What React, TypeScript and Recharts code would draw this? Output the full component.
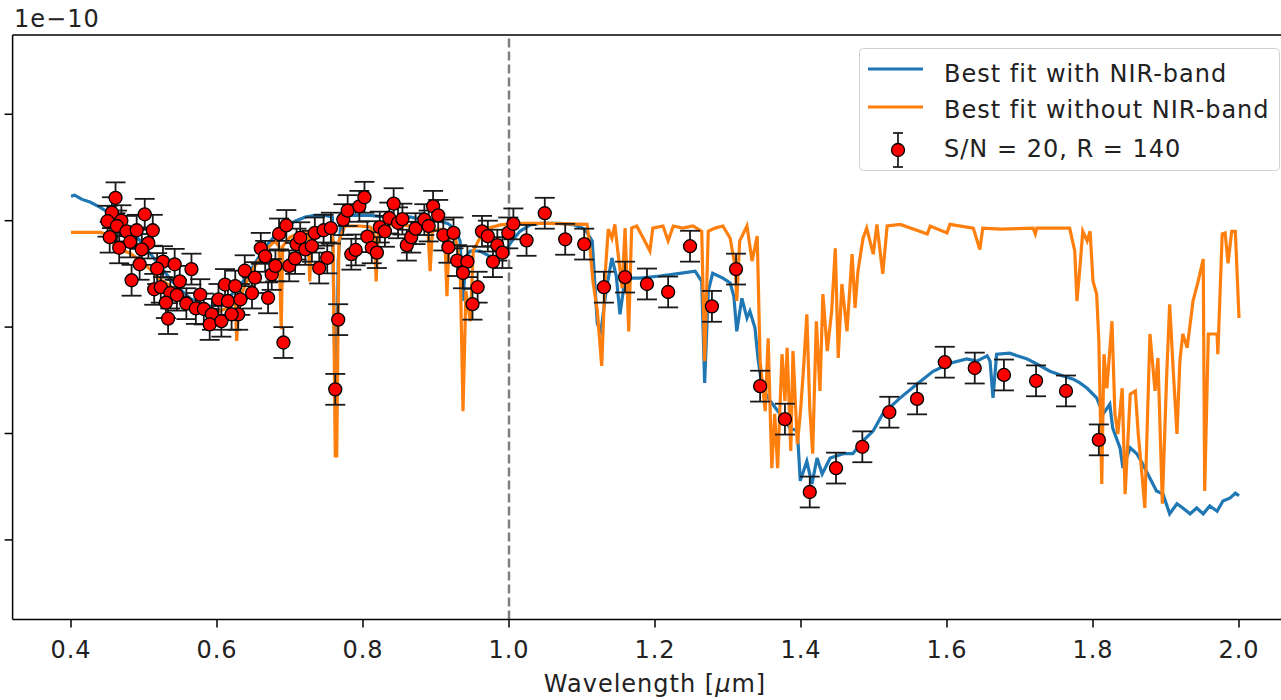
import React from 'react';
import { ComposedChart, Line, Scatter, ErrorBar, XAxis, YAxis, ReferenceLine, Legend, Label } from 'recharts';

const FONT = '"DejaVu Sans", Verdana, sans-serif';
const BLUE = '#1f77b4';
const ORANGE = '#ff7f0e';

// axis ticks
const wavelengthTicks = [0.4, 0.6, 0.8, 1.0, 1.2, 1.4, 1.6, 1.8, 2.0];
const fluxTicks = [0.2, 0.4, 0.6, 0.8, 1.0];

// best fit with NIR-band [wavelength um, flux 1e-10]
const fitWithNir: [number, number][] = [
  [0.400, 0.846], [0.405, 0.848], [0.415, 0.840], [0.426, 0.835], [0.440, 0.825], [0.453, 0.814],
  [0.467, 0.799], [0.481, 0.780], [0.495, 0.762], [0.508, 0.739], [0.522, 0.715], [0.536, 0.690],
  [0.549, 0.671], [0.563, 0.654], [0.577, 0.645], [0.590, 0.639], [0.601, 0.641], [0.611, 0.649],
  [0.625, 0.668], [0.638, 0.690], [0.652, 0.720], [0.666, 0.750], [0.679, 0.771], [0.693, 0.788],
  [0.707, 0.799], [0.721, 0.807], [0.734, 0.810], [0.748, 0.810], [0.758, 0.807], [0.760, 0.649],
  [0.763, 0.358], [0.766, 0.724], [0.770, 0.803], [0.782, 0.810], [0.796, 0.810], [0.810, 0.810],
  [0.823, 0.808], [0.837, 0.807], [0.851, 0.805], [0.864, 0.807], [0.878, 0.803], [0.892, 0.803],
  [0.905, 0.799], [0.916, 0.795], [0.926, 0.784], [0.933, 0.762], [0.937, 0.649], [0.941, 0.733],
  [0.947, 0.743], [0.960, 0.743], [0.974, 0.733], [0.988, 0.733], [0.995, 0.743], [1.004, 0.762],
  [1.015, 0.780], [1.029, 0.792], [1.042, 0.795], [1.070, 0.795], [1.090, 0.792], [1.104, 0.784],
  [1.114, 0.762], [1.121, 0.606], [1.126, 0.592], [1.133, 0.668], [1.141, 0.730], [1.147, 0.696],
  [1.152, 0.624], [1.159, 0.692], [1.179, 0.692], [1.207, 0.696], [1.234, 0.701], [1.255, 0.705],
  [1.264, 0.686], [1.268, 0.495], [1.273, 0.668], [1.279, 0.701], [1.293, 0.692], [1.303, 0.683],
  [1.308, 0.658], [1.312, 0.592], [1.319, 0.654], [1.326, 0.617], [1.330, 0.630], [1.337, 0.598],
  [1.341, 0.542], [1.347, 0.485], [1.358, 0.461], [1.371, 0.437], [1.385, 0.410], [1.395, 0.405],
  [1.399, 0.311], [1.408, 0.348], [1.415, 0.305], [1.422, 0.354], [1.429, 0.324], [1.440, 0.354],
  [1.458, 0.362], [1.471, 0.362], [1.485, 0.386], [1.499, 0.405], [1.512, 0.437], [1.536, 0.467],
  [1.559, 0.493], [1.581, 0.517], [1.604, 0.532], [1.627, 0.540], [1.641, 0.536], [1.655, 0.546],
  [1.659, 0.536], [1.663, 0.467], [1.668, 0.549], [1.686, 0.551], [1.696, 0.546], [1.710, 0.540],
  [1.723, 0.531], [1.741, 0.517], [1.759, 0.508], [1.773, 0.502], [1.782, 0.495], [1.792, 0.485],
  [1.805, 0.467], [1.814, 0.437], [1.823, 0.455], [1.827, 0.410], [1.837, 0.373], [1.841, 0.335],
  [1.851, 0.373], [1.860, 0.362], [1.868, 0.343], [1.878, 0.316], [1.887, 0.292], [1.896, 0.286],
  [1.905, 0.249], [1.915, 0.268], [1.923, 0.260], [1.933, 0.249], [1.942, 0.260], [1.951, 0.249],
  [1.960, 0.264], [1.970, 0.254], [1.978, 0.273], [1.988, 0.279], [1.995, 0.288], [2.000, 0.283],
];

// best fit without NIR-band
const fitWithoutNir: [number, number][] = [
  [0.400, 0.778], [0.440, 0.778], [0.447, 0.775], [0.453, 0.762], [0.467, 0.746], [0.481, 0.739],
  [0.495, 0.724], [0.508, 0.709], [0.522, 0.690], [0.536, 0.677], [0.549, 0.662], [0.563, 0.649],
  [0.577, 0.639], [0.590, 0.630], [0.604, 0.630], [0.618, 0.639], [0.625, 0.649], [0.627, 0.574],
  [0.630, 0.649], [0.638, 0.677], [0.652, 0.715], [0.666, 0.743], [0.679, 0.762], [0.685, 0.752],
  [0.688, 0.596], [0.690, 0.752], [0.700, 0.769], [0.714, 0.777], [0.725, 0.777], [0.727, 0.686],
  [0.730, 0.777], [0.741, 0.784], [0.755, 0.788], [0.759, 0.762], [0.762, 0.358], [0.764, 0.358],
  [0.767, 0.762], [0.775, 0.790], [0.796, 0.790], [0.810, 0.788], [0.816, 0.771], [0.818, 0.686],
  [0.821, 0.780], [0.837, 0.792], [0.851, 0.792], [0.878, 0.788], [0.889, 0.780], [0.892, 0.705],
  [0.895, 0.780], [0.905, 0.784], [0.912, 0.771], [0.915, 0.658], [0.918, 0.771], [0.926, 0.771],
  [0.933, 0.724], [0.937, 0.442], [0.941, 0.668], [0.947, 0.611], [0.951, 0.743], [0.958, 0.762],
  [0.967, 0.784], [0.988, 0.792], [1.015, 0.795], [1.056, 0.795], [1.107, 0.793], [1.111, 0.748],
  [1.115, 0.686], [1.121, 0.630], [1.127, 0.527], [1.132, 0.705], [1.136, 0.784], [1.141, 0.767],
  [1.145, 0.793], [1.149, 0.743], [1.155, 0.673], [1.159, 0.786], [1.164, 0.592], [1.168, 0.786],
  [1.175, 0.790], [1.184, 0.767], [1.193, 0.743], [1.197, 0.786], [1.211, 0.790], [1.218, 0.762],
  [1.225, 0.790], [1.238, 0.786], [1.252, 0.790], [1.264, 0.780], [1.268, 0.536], [1.273, 0.780],
  [1.282, 0.786], [1.293, 0.790], [1.303, 0.767], [1.310, 0.711], [1.312, 0.649], [1.316, 0.762],
  [1.326, 0.790], [1.333, 0.724], [1.340, 0.771], [1.344, 0.536], [1.351, 0.442], [1.355, 0.579],
  [1.360, 0.335], [1.364, 0.437], [1.368, 0.335], [1.374, 0.549], [1.378, 0.461], [1.381, 0.561],
  [1.386, 0.367], [1.389, 0.555], [1.395, 0.380], [1.399, 0.437], [1.403, 0.512], [1.408, 0.624],
  [1.412, 0.448], [1.416, 0.362], [1.421, 0.611], [1.426, 0.480], [1.430, 0.662], [1.436, 0.555],
  [1.442, 0.630], [1.447, 0.748], [1.451, 0.542], [1.456, 0.681], [1.463, 0.592], [1.470, 0.737],
  [1.474, 0.636], [1.478, 0.705], [1.485, 0.767], [1.490, 0.786], [1.499, 0.737], [1.504, 0.793],
  [1.512, 0.700], [1.518, 0.790], [1.536, 0.793], [1.573, 0.775], [1.577, 0.790], [1.600, 0.777],
  [1.604, 0.793], [1.636, 0.786], [1.645, 0.746], [1.649, 0.786], [1.673, 0.784], [1.718, 0.786],
  [1.721, 0.775], [1.723, 0.786], [1.768, 0.786], [1.775, 0.743], [1.778, 0.649], [1.782, 0.711],
  [1.786, 0.780], [1.792, 0.762], [1.796, 0.780], [1.800, 0.686], [1.805, 0.662], [1.808, 0.574],
  [1.812, 0.305], [1.815, 0.549], [1.819, 0.485], [1.826, 0.611], [1.830, 0.437], [1.834, 0.399],
  [1.840, 0.485], [1.844, 0.286], [1.851, 0.474], [1.858, 0.480], [1.862, 0.399], [1.867, 0.324],
  [1.871, 0.260], [1.878, 0.587], [1.885, 0.480], [1.889, 0.542], [1.895, 0.268], [1.901, 0.512],
  [1.905, 0.643], [1.910, 0.517], [1.915, 0.399], [1.919, 0.536], [1.923, 0.587], [1.929, 0.561],
  [1.937, 0.649], [1.944, 0.686], [1.951, 0.728], [1.953, 0.292], [1.958, 0.587], [1.970, 0.587],
  [1.971, 0.549], [1.977, 0.775], [1.981, 0.777], [1.985, 0.720], [1.990, 0.780], [1.995, 0.780],
  [2.000, 0.617],
];

// simulated observation, S/N = 20, R = 140
const observed: [number, number][] = [
  [0.461, 0.843], [0.456, 0.815], [0.450, 0.799], [0.469, 0.800], [0.463, 0.790], [0.476, 0.780],
  [0.453, 0.769], [0.481, 0.760], [0.466, 0.749], [0.490, 0.782], [0.501, 0.812], [0.512, 0.782],
  [0.506, 0.758], [0.497, 0.746], [0.494, 0.718], [0.483, 0.688], [0.526, 0.723], [0.518, 0.710],
  [0.542, 0.718], [0.565, 0.709], [0.549, 0.686], [0.514, 0.671], [0.523, 0.675], [0.536, 0.664],
  [0.530, 0.646], [0.545, 0.660], [0.558, 0.644], [0.533, 0.616], [0.577, 0.661], [0.571, 0.635],
  [0.582, 0.634], [0.593, 0.624], [0.590, 0.605], [0.606, 0.611], [0.602, 0.652], [0.611, 0.680],
  [0.625, 0.677], [0.615, 0.649], [0.629, 0.624], [0.620, 0.624], [0.632, 0.652], [0.638, 0.706],
  [0.648, 0.664], [0.652, 0.693], [0.660, 0.748], [0.666, 0.733], [0.670, 0.655], [0.675, 0.699],
  [0.680, 0.715], [0.685, 0.775], [0.695, 0.791], [0.691, 0.571], [0.699, 0.715], [0.707, 0.729],
  [0.709, 0.756], [0.714, 0.768], [0.721, 0.746], [0.730, 0.752], [0.734, 0.777], [0.746, 0.782],
  [0.756, 0.786], [0.740, 0.711], [0.751, 0.730], [0.766, 0.614], [0.762, 0.483], [0.773, 0.802],
  [0.779, 0.819], [0.795, 0.827], [0.802, 0.844], [0.784, 0.737], [0.790, 0.745], [0.806, 0.770],
  [0.812, 0.749], [0.819, 0.740], [0.823, 0.788], [0.830, 0.780], [0.836, 0.805], [0.842, 0.832],
  [0.848, 0.796], [0.854, 0.803], [0.860, 0.754], [0.866, 0.769], [0.872, 0.785], [0.884, 0.802],
  [0.890, 0.790], [0.896, 0.827], [0.903, 0.810], [0.910, 0.773], [0.917, 0.750], [0.924, 0.777],
  [0.929, 0.725], [0.943, 0.723], [0.937, 0.702], [0.957, 0.675], [0.950, 0.643], [0.963, 0.780],
  [0.971, 0.771], [0.978, 0.723], [0.984, 0.754], [0.991, 0.740], [0.999, 0.777], [1.006, 0.794],
  [1.024, 0.763], [1.049, 0.814], [1.077, 0.765], [1.103, 0.756], [1.130, 0.675], [1.159, 0.694],
  [1.189, 0.681], [1.218, 0.666], [1.248, 0.752], [1.278, 0.639], [1.311, 0.709], [1.344, 0.489],
  [1.378, 0.427], [1.412, 0.290], [1.448, 0.335], [1.484, 0.375], [1.521, 0.440], [1.559, 0.465],
  [1.597, 0.534], [1.638, 0.523], [1.678, 0.510], [1.722, 0.499], [1.763, 0.480], [1.808, 0.388],
];
const fluxError = 0.029;

const xDomain: [number, number] = [0.32, 2.08];
const yDomain: [number, number] = [0.0504, 1.149];

const blueData = fitWithNir.map(([x, y]) => ({ x, y }));
const orangeData = fitWithoutNir.map(([x, y]) => ({ x, y }));
const obsData = observed.map(([x, y]) => ({ x, y, err: fluxError }));

const RedDot = (props: any) => (
  <circle cx={props.cx} cy={props.cy} r={6.5} fill="#ff0000" stroke="#000" strokeWidth={1.3} />
);

const NoTick = () => <g />;

const textStyle = { fontFamily: FONT, fontSize: 24, fill: '#222', letterSpacing: 1 };

const renderLegend = () => (
  <svg width={422} height={124} style={{ display: 'block' }}>
    <rect x={0.5} y={0.5} width={420} height={122} rx={4} fill="rgba(255,255,255,0.8)" stroke="#d0d0d0" />
    <line x1={9} x2={64} y1={21} y2={21} stroke={BLUE} strokeWidth={3} />
    <text x={85} y={34} {...textStyle}>Best fit with NIR-band</text>
    <line x1={9} x2={64} y1={59} y2={59} stroke={ORANGE} strokeWidth={3} />
    <text x={85} y={70} {...textStyle}>Best fit without NIR-band</text>
    <line x1={39} x2={39} y1={85} y2={119} stroke="#222" strokeWidth={1.8} />
    <line x1={34} x2={44} y1={85} y2={85} stroke="#222" strokeWidth={1.8} />
    <line x1={34} x2={44} y1={119} y2={119} stroke="#222" strokeWidth={1.8} />
    <circle cx={39} cy={102} r={6.5} fill="#ff0000" stroke="#000" strokeWidth={1.3} />
    <text x={85} y={109} {...textStyle}>S/N = 20, R = 140</text>
  </svg>
);

const App = () => {
  return (
    <div style={{ position: 'absolute', left: 0, top: 0, width: 1281, height: 700, overflow: 'hidden', background: '#fff' }}>
      <ComposedChart width={1300} height={700} margin={{ top: 34, right: 2.6, bottom: 0.5, left: 0 }}>
        <XAxis
          dataKey="x"
          type="number"
          domain={xDomain}
          allowDataOverflow
          ticks={wavelengthTicks}
          tickFormatter={(v: number) => v.toFixed(1)}
          tickSize={8}
          tickMargin={13}
          height={80}
          axisLine={{ stroke: '#000', strokeWidth: 1.5 }}
          tickLine={{ stroke: '#000', strokeWidth: 1.5 }}
          tick={textStyle}
        >
          <Label
            content={(props: any) => (
              <text
                x={props.viewBox.x + props.viewBox.width / 2}
                y={692}
                textAnchor="middle"
                {...textStyle}
              >
                Wavelength [<tspan fontStyle="italic">μ</tspan>m]
              </text>
            )}
          />
        </XAxis>
        <XAxis
          xAxisId="frame"
          orientation="top"
          type="number"
          domain={xDomain}
          height={1}
          tick={NoTick}
          tickLine={false}
          axisLine={{ stroke: '#000', strokeWidth: 1.5 }}
        />
        <YAxis
          dataKey="y"
          type="number"
          domain={yDomain}
          allowDataOverflow
          ticks={fluxTicks}
          tick={NoTick}
          tickSize={8}
          width={12.6}
          axisLine={{ stroke: '#000', strokeWidth: 1.5 }}
          tickLine={{ stroke: '#000', strokeWidth: 1.5 }}
        >
          <Label content={() => <text x={14} y={27} {...textStyle}>1e−10</text>} />
        </YAxis>
        <Legend
          layout="vertical"
          align="center"
          verticalAlign="middle"
          content={renderLegend}
          wrapperStyle={{ left: 859, top: 48, width: 422, height: 124 }}
        />
        <Line data={blueData} dataKey="y" type="linear" stroke={BLUE} strokeWidth={3.2} dot={false} activeDot={false} isAnimationActive={false} />
        <Line data={orangeData} dataKey="y" type="linear" stroke={ORANGE} strokeWidth={3.2} dot={false} activeDot={false} isAnimationActive={false} />
        <ReferenceLine x={1.0} stroke="#808080" strokeWidth={2.5} strokeDasharray="9 4" />
        <Scatter data={obsData} dataKey="y" shape={RedDot} isAnimationActive={false}>
          <ErrorBar dataKey="err" direction="y" width={10} stroke="#1a1a1a" strokeWidth={1.8} />
        </Scatter>
      </ComposedChart>
    </div>
  );
};

export default App;
